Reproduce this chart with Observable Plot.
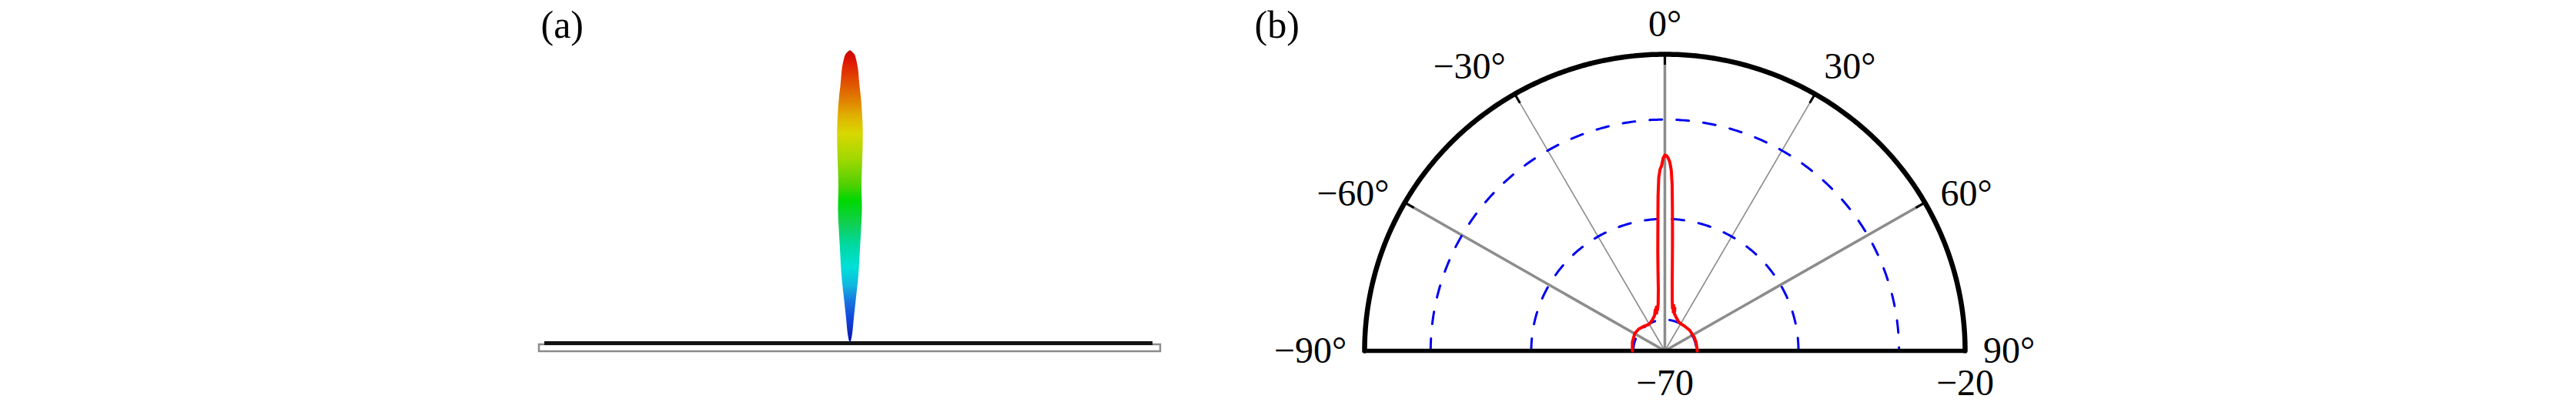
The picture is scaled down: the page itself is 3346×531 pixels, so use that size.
<!DOCTYPE html>
<html><head><meta charset="utf-8">
<script src="https://cdn.jsdelivr.net/npm/d3@7"></script>
<script src="https://cdn.jsdelivr.net/npm/@observablehq/plot@0.6"></script>
<style>
html,body{margin:0;padding:0;background:#fff;}
#wrap{position:relative;width:3346px;height:531px;overflow:hidden;background:#fff;}
#pa{position:absolute;left:650px;top:0;}
#pb{position:absolute;left:1600px;top:0;}
</style></head><body><div id="wrap"><div id="pa"></div><div id="pb"></div></div>
<script>
// ---------- Panel (a): 3D beam lobe seen from the side ----------
const lobeHeight    = [0, 2, 12, 32, 55, 88, 122, 148, 172, 205, 238, 255, 282, 315, 338, 355, 368, 375, 380];
const lobeHalfWidth = [0, 1, 3, 5, 7.5, 11, 13, 14.5, 15.5, 15, 16, 16.5, 16.5, 14.5, 12, 10.5, 8, 5.5, 0];
const jetOffsets = [0, 0.074, 0.145, 0.197, 0.258, 0.337, 0.408, 0.487, 0.54, 0.626, 0.716, 0.776, 0.83, 0.89, 0.96, 1];
const jetColors  = ["#0a10a8", "#1040d8", "#1878e0", "#10b8e0", "#00e0d8", "#00d8a0", "#10d050", "#00d800", "#50d000", "#a0d800", "#d8d800", "#e0b000", "#e08000", "#e05000", "#e01800", "#c80000"];
const plateSpan = [-404, 403];
const plateLine = [-397, 393];

// ---------- Panel (b): polar radiation pattern (dB) ----------
const rMin = -70, rMax = -20;
const patternAngle = [-90,-75,-60,-50,-40,-30,-22,-16,-13,-12,-11,-10,-8,-6,-5,-4,-3,-2.5,-2,-1.5,-1,-0.5,0,0.5,1,1.5,2,2.5,3,3.5,4,5,6,7,8,9,10,11,12,13,14,18,25,31,40,50,65,75,90];
const patternDb    = [-64.6,-64.4,-64.2,-64.3,-64.6,-64.8,-64.4,-63.8,-62.9,-63.5,-62.5,-63.0,-62.0,-59.6,-57.0,-53.1,-47.9,-44.0,-40.8,-39.4,-38.8,-37.5,-37.0,-37.1,-37.5,-38.2,-39.5,-42.1,-46.0,-49.2,-51.8,-55.7,-58.3,-59.9,-61.2,-62.0,-62.7,-62.2,-63.3,-62.6,-63.5,-64.0,-64.6,-64.7,-64.7,-64.6,-64.6,-64.6,-64.6];
const gridDb = [-64.75, -47.75, -31];
const spokeThick = [-60, 0, 60];
const spokeThin = [-30, 30];
const angleLabelsTop = [-30, 0, 30];
const angleLabelsSide = [-90, -60, 60, 90];
const radialLabels = [-70, -20];

const FONT = "Liberation Serif";
const rad = a => a * Math.PI / 180;
const rho = db => (db - rMin) / (rMax - rMin);
const px = (a, r) => r * Math.sin(rad(a));
const py = (a, r) => r * Math.cos(rad(a));
const deg = a => (a < 0 ? "\u2212" + (-a) : "" + a) + "°";
const num = v => (v < 0 ? "\u2212" + (-v) : "" + v);

// ----- Panel (a) -----
const lobe = lobeHeight.map((h, i) => ({h, w: lobeHalfWidth[i]}));
const gradDefs = () => {
  const ns = "http://www.w3.org/2000/svg";
  const defs = document.createElementNS(ns, "defs");
  const g = document.createElementNS(ns, "linearGradient");
  g.setAttribute("id", "jetGrad");
  g.setAttribute("x1", "0"); g.setAttribute("y1", "1");
  g.setAttribute("x2", "0"); g.setAttribute("y2", "0");
  jetOffsets.forEach((o, i) => {
    const s = document.createElementNS(ns, "stop");
    s.setAttribute("offset", o);
    s.setAttribute("stop-color", jetColors[i]);
    g.appendChild(s);
  });
  defs.appendChild(g);
  return defs;
};

const plotA = Plot.plot({
  width: 900, height: 531,
  marginTop: 0, marginRight: 0, marginBottom: 0, marginLeft: 0,
  x: {domain: [-454, 446], axis: null},
  y: {domain: [-86, 445], axis: null},
  style: {background: "transparent", overflow: "visible"},
  marks: [
    gradDefs,
    Plot.rect([{x1: plateSpan[0], x2: plateSpan[1]}], {x1: "x1", x2: "x2", y1: -2, y2: -11, fill: "white", stroke: "#8a8a8a", strokeWidth: 2.5}),
    Plot.ruleY([0], {x1: plateLine[0], x2: plateLine[1], stroke: "#111", strokeWidth: 5}),
    Plot.areaX(lobe, {y: "h", x1: d => -d.w, x2: d => d.w, fill: "url(#jetGrad)", curve: "catmull-rom"}),
    Plot.text(["(a)"], {frameAnchor: "top-left", text: d => d, dx: 52, dy: 48, lineAnchor: "bottom", textAnchor: "start", fontFamily: FONT, fontSize: 50, fill: "black"})
  ]
});
document.getElementById("pa").appendChild(plotA);

// ----- Panel (b) -----
const arcPts = r => d3.range(-90, 90.001, 0.5).map(a => ({a, r}));
const gridPts = gridDb.flatMap(db => arcPts(rho(db)).map(p => ({...p, db})));
const outerPts = arcPts(1);
const pattern = patternAngle.map((a, i) => ({a, r: rho(patternDb[i])}));
const spokes = a => a.map(v => ({a: v}));

const plotB = Plot.plot({
  width: 1100, height: 531,
  marginTop: 0, marginRight: 0, marginBottom: 0, marginLeft: 0,
  x: {domain: [-562 / 390, 538 / 390], axis: null},
  y: {domain: [-76 / 385, 455 / 385], axis: null},
  style: {background: "transparent", overflow: "visible"},
  marks: [
    Plot.link(spokes(spokeThick), {x1: 0, y1: 0, x2: d => px(d.a, 1), y2: d => py(d.a, 1), stroke: "#8c8c8c", strokeWidth: 3.5}),
    Plot.link(spokes(spokeThin), {x1: 0, y1: 0, x2: d => px(d.a, 1), y2: d => py(d.a, 1), stroke: "#8c8c8c", strokeWidth: 1.6}),
    Plot.link(spokes([...spokeThick, ...spokeThin]), {x1: d => px(d.a, 0.965), y1: d => py(d.a, 0.965), x2: d => px(d.a, 1), y2: d => py(d.a, 1), stroke: "black", strokeWidth: 3}),
    Plot.line(gridPts, {x: d => px(d.a, d.r), y: d => py(d.a, d.r), z: "db", stroke: "#0000f0", strokeWidth: 3, strokeDasharray: "16,19"}),
    Plot.line(outerPts, {x: d => px(d.a, d.r), y: d => py(d.a, d.r), stroke: "black", strokeWidth: 6.5}),
    Plot.ruleY([0], {x1: -1, x2: 1, stroke: "black", strokeWidth: 5.5}),
    Plot.line(pattern, {x: d => px(d.a, d.r), y: d => py(d.a, d.r), stroke: "#ff0000", strokeWidth: 4, strokeLinejoin: "round"}),
    Plot.text(angleLabelsTop.filter(a => a === 0), {x: a => px(a, 1.06), y: a => py(a, 1.06), text: deg, textAnchor: "middle", lineAnchor: "bottom", fontFamily: FONT, fontSize: 48, fill: "black"}),
    Plot.text(angleLabelsTop.filter(a => a > 0), {x: a => px(a, 1.06), y: a => py(a, 1.06), text: deg, textAnchor: "start", lineAnchor: "bottom", fontFamily: FONT, fontSize: 48, fill: "black"}),
    Plot.text(angleLabelsTop.filter(a => a < 0), {x: a => px(a, 1.06), y: a => py(a, 1.06), text: deg, textAnchor: "end", lineAnchor: "bottom", fontFamily: FONT, fontSize: 48, fill: "black"}),
    Plot.text(angleLabelsSide.filter(a => a > 0), {x: a => px(a, 1.06), y: a => py(a, 1.06), text: deg, textAnchor: "start", lineAnchor: "middle", fontFamily: FONT, fontSize: 48, fill: "black"}),
    Plot.text(angleLabelsSide.filter(a => a < 0), {x: a => px(a, 1.06), y: a => py(a, 1.06), text: deg, textAnchor: "end", lineAnchor: "middle", fontFamily: FONT, fontSize: 48, fill: "black"}),
    Plot.text(radialLabels, {x: v => rho(v), y: 0, text: num, textAnchor: "middle", lineAnchor: "top", dy: 23, fontFamily: FONT, fontSize: 48, fill: "black"}),
    Plot.text(["(b)"], {frameAnchor: "top-left", text: d => d, dx: 29, dy: 48, lineAnchor: "bottom", textAnchor: "start", fontFamily: FONT, fontSize: 50, fill: "black"})
  ]
});
document.getElementById("pb").appendChild(plotB);
</script>
</body></html>
